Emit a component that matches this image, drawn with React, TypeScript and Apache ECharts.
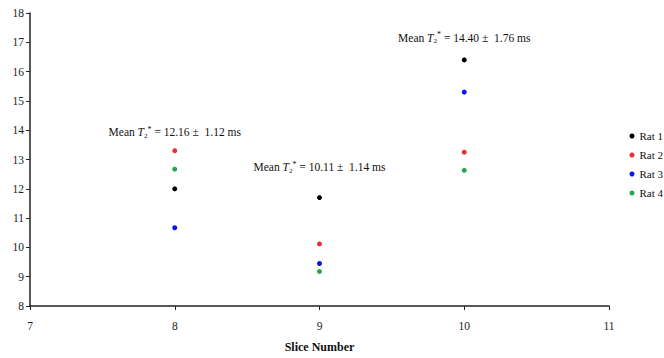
import React, { useEffect, useRef } from "react";
import * as echarts from "echarts";

const slices = [8, 9, 10];
const rat1 = [12.0, 11.7, 16.4];
const rat2 = [13.3, 10.12, 13.25];
const rat3 = [10.67, 9.45, 15.3];
const rat4 = [12.67, 9.18, 12.63];
const seriesNames = ["Rat 1", "Rat 2", "Rat 3", "Rat 4"];
const colors = ["#000000", "#e8303a", "#0a14e6", "#25a84a"];
const means = ["12.16", "10.11", "14.40"];
const sds = ["1.12", "1.14", "1.76"];
const annotY = [13.93, 12.73, 17.15];

const FONT = "'Liberation Serif', 'Times New Roman', serif";

export default function App() {
  const ref = useRef<HTMLDivElement>(null);
  useEffect(() => {
    if (!ref.current) return;
    const chart = echarts.init(ref.current, null, { renderer: "svg" });
    const all = [rat1, rat2, rat3, rat4];
    const rich = {
      n: { fontFamily: FONT, fontSize: 11.5, color: "#111", lineHeight: 14 },
      i: { fontFamily: FONT, fontSize: 11.5, fontStyle: "italic", color: "#111", lineHeight: 14 },
      sub: { fontFamily: FONT, fontSize: 7, color: "#111", verticalAlign: "bottom", lineHeight: 12 },
      sup: { fontFamily: FONT, fontSize: 8, color: "#111", verticalAlign: "top", lineHeight: 12 },
    };
    const series: any[] = all.map((vals, k) => ({
      name: seriesNames[k],
      type: "scatter",
      symbol: "circle",
      symbolSize: 5,
      itemStyle: { color: colors[k], opacity: 1 },
      data: slices.map((s, j) => [s, vals[j]]),
    }));
    series.push({
      type: "scatter",
      name: "annot",
      data: [],
      silent: true,
      markPoint: {
        symbol: "circle",
        symbolSize: 0,
        silent: true,
        data: slices.map((s, j) => ({
          coord: [s, annotY[j]],
          label: {
            show: true,
            position: "inside",
            formatter: `{n|Mean }{i|T}{sub|2}{sup|*}{n| = ${means[j]} \u00b1  ${sds[j]} ms}`,
            rich,
          },
        })),
      },
    });
    chart.setOption({
      animation: false,
      textStyle: { fontFamily: FONT },
      grid: { left: 30, right: 55, top: 13, bottom: 49, containLabel: false },
      legend: {
        orient: "vertical",
        left: 629.5,
        top: 130,
        padding: 0,
        itemWidth: 5,
        itemHeight: 5,
        itemGap: 7,
        icon: "circle",
        data: seriesNames,
        textStyle: { fontFamily: FONT, fontSize: 11, color: "#111", lineHeight: 12 },
      },
      xAxis: {
        type: "value",
        min: 7,
        max: 11,
        interval: 1,
        name: "Slice Number",
        nameLocation: "middle",
        nameGap: 35,
        nameTextStyle: { fontFamily: FONT, fontSize: 12, fontWeight: "bold", color: "#111" },
        axisLine: { show: true, lineStyle: { color: "#222", width: 1.5 } },
        axisTick: { show: true, length: 4, lineStyle: { color: "#222" } },
        axisLabel: { fontFamily: FONT, fontSize: 11.5, color: "#222", margin: 14 },
        splitLine: { show: false },
      },
      yAxis: {
        type: "value",
        min: 8,
        max: 18,
        interval: 1,
        axisLine: { show: true, lineStyle: { color: "#222", width: 1.5 } },
        axisTick: { show: true, length: 4, lineStyle: { color: "#222" } },
        axisLabel: { fontFamily: FONT, fontSize: 11.5, color: "#222", margin: 6 },
        splitLine: { show: false },
      },
      series,
    });
    return () => chart.dispose();
  }, []);
  return <div ref={ref} style={{ width: 664, height: 358, position: "fixed", left: 0, top: 0, background: "#fff" }} />;
}
